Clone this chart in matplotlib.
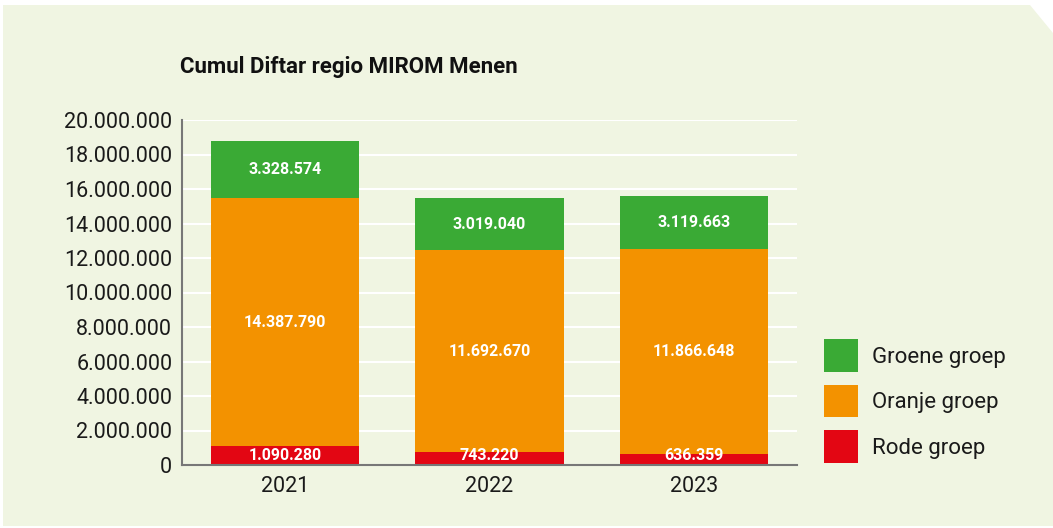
import matplotlib
matplotlib.use("Agg")
import matplotlib.pyplot as plt
from matplotlib.patches import Polygon, Patch
import numpy as np

years = ["2021", "2022", "2023"]
rode = [1090280, 743220, 636359]
oranje = [14387790, 11692670, 11866648]
groene = [3328574, 3019040, 3119663]
series_names = ["Rode groep", "Oranje groep", "Groene groep"]
colors = ["#e30613", "#f39200", "#3aaa35"]
yticks = list(range(0, 20000001, 2000000))

def fmt(v):
    return f"{v:,}".replace(",", ".")

plt.rcParams['font.family'] = ['Roboto', 'DejaVu Sans']

fig = plt.figure(figsize=(10.53, 5.28), dpi=100)
fig.patch.set_facecolor("white")
W, H = 1053, 528
bg_pts = [(3, 5), (1030, 5), (1053, 33), (1053, 526), (3, 526)]
bg = Polygon([(x / W, 1 - y / H) for x, y in bg_pts], closed=True,
             transform=fig.transFigure, facecolor="#f0f5e2", edgecolor="none", zorder=-10)
fig.patches.append(bg)

ax = fig.add_axes([182 / W, 1 - 465 / H, (797 - 182) / W, (465 - 120) / H])
ax.set_zorder(2)
ax.set_facecolor("none")

x = np.arange(len(years))
width = 0.725
data = [rode, oranje, groene]
bottoms = np.zeros(len(years))
for vals, c in zip(data, colors):
    ax.bar(x, vals, width, bottom=bottoms, color=c, zorder=3)
    bottoms += np.array(vals)

# labels
bottoms = np.zeros(len(years))
for si, vals in enumerate(data):
    for i, v in enumerate(vals):
        yc = bottoms[i] + v / 2
        if si == 0:
            yc = max(yc, 560000)
        ax.text(x[i], yc, fmt(v), ha="center", va="center", color="white",
                fontsize=11.5, fontweight="bold", zorder=5)
    bottoms += np.array(vals)

ax.set_xlim(-0.504, 2.504)
ax.set_ylim(0, 20000000)
ax.set_yticks(yticks)
ax.set_yticklabels([fmt(t) for t in yticks], fontsize=15.5, color="#1a1a1a")
ax.set_xticks(x)
ax.set_xticklabels(years, fontsize=15.5, color="#1a1a1a")
ax.tick_params(axis="both", length=0)
ax.tick_params(axis="y", pad=7)
ax.tick_params(axis="x", pad=8)
ax.grid(axis="y", color="white", linewidth=1.5, zorder=1)
ax.set_axisbelow(True)
for s in ["top", "right"]:
    ax.spines[s].set_visible(False)
for s in ["left", "bottom"]:
    ax.spines[s].set_color("#777777")
    ax.spines[s].set_linewidth(1.5)
    ax.spines[s].set_zorder(4)

fig.text(180 / W, 1 - 67 / H, "Cumul Diftar regio MIROM Menen", fontsize=16,
         fontweight="bold", ha="left", va="center", color="#111111")

handles = [Patch(facecolor=colors[i], edgecolor="none") for i in [2, 1, 0]]
labels = [series_names[i] for i in [2, 1, 0]]
fig.legend(handles, labels, loc="upper left", bbox_to_anchor=(820 / W, 1 - 335 / H),
           frameon=False, fontsize=16, handlelength=1.5, handleheight=1.85,
           labelspacing=0.6, handletextpad=0.65, borderaxespad=0, borderpad=0.2,
           labelcolor="#1a1a1a")

fig.savefig("out.png", dpi=100, facecolor=fig.get_facecolor())
